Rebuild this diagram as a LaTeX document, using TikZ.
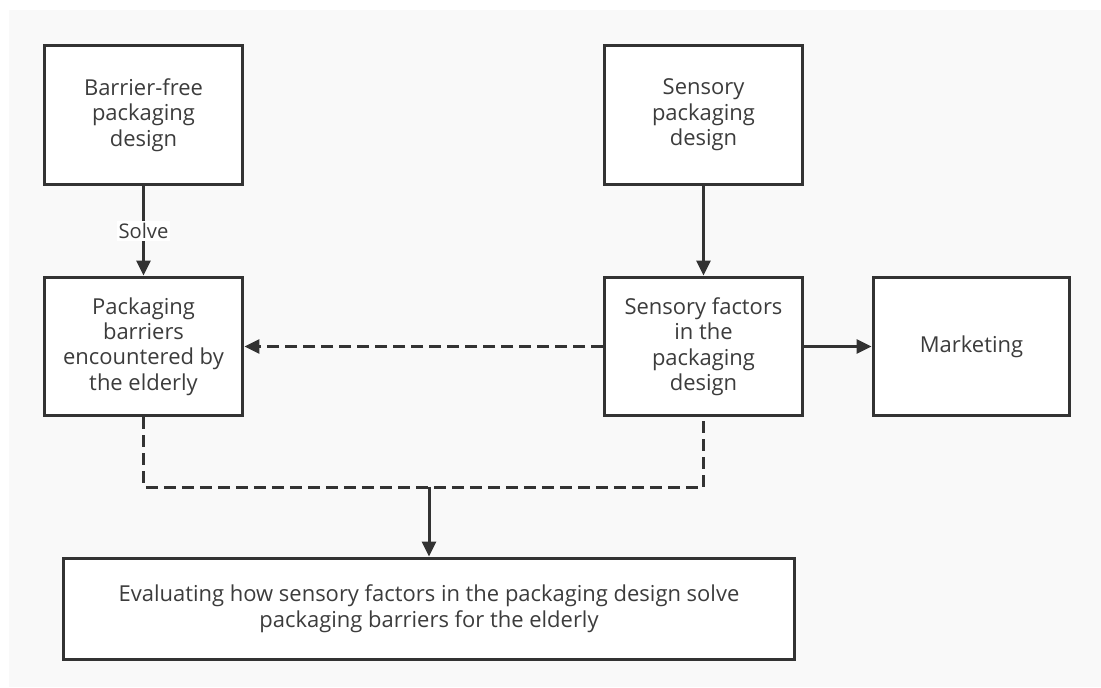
\documentclass[tikz,border=0pt]{standalone}
\usepackage{fontspec}
\setmainfont{Open Sans}
\usepackage{xcolor}
\usetikzlibrary{arrows.meta,positioning}
\definecolor{linegray}{HTML}{333333}
\definecolor{textgray}{HTML}{3C3C3C}
\definecolor{pagegray}{HTML}{F9F9F9}

\begin{document}
\begin{tikzpicture}[x=0.02cm, y=-0.02cm,
  box/.style={draw=linegray, line width=0.06cm, fill=white, text=textgray,
    align=center, inner sep=0pt, font=\fontsize{12.5}{14.5}\selectfont},
  arr/.style={draw=linegray, line width=0.06cm, -{Triangle[length=0.3cm,width=0.28cm]}},
  dashline/.style={draw=linegray, line width=0.06cm, dash pattern=on 0.24cm off 0.12cm}]
  % background
  \fill[white] (0,0) rectangle (1101,687);
  \fill[pagegray] (9,10) rectangle (1101,687);
  \useasboundingbox (0,0) rectangle (1101,687);
  % top row
  \node[box, minimum width=3.98cm, minimum height=2.8cm] (bfree) at (143.5,115) {Barrier-free\\packaging\\design};
  \node[box, minimum width=3.98cm, minimum height=2.8cm] (sensory) at (703.5,115) {Sensory\\packaging\\design};
  % middle row
  \node[box, minimum width=3.98cm, minimum height=2.78cm] (barriers) at (143.5,346.5) {Packaging\\barriers\\encountered by\\the elderly};
  \node[box, minimum width=3.96cm, minimum height=2.78cm] (factors) at (703.5,346.5) {Sensory factors\\in the\\packaging\\design};
  \node[box, minimum width=3.94cm, minimum height=2.78cm] (market) at (971.5,346.5) {Marketing};
  % bottom
  \node[box, minimum width=14.64cm, minimum height=2.02cm] (evaluate) at (429,608.5) {Evaluating how sensory factors in the packaging design solve\\packaging barriers for the elderly};
  \coordinate (join) at (evaluate.north |- 0,487);
  % connectors
  \draw[arr] (bfree) -- node[fill=white, text=textgray, inner sep=1pt, font=\fontsize{11.5}{13}\selectfont] {Solve} (barriers);
  \draw[arr] (sensory) -- (factors);
  \draw[arr] (factors) -- (market);
  \draw[dashline, -{Triangle[length=0.3cm,width=0.28cm]}] (factors) -- (barriers);
  \draw[dashline] (barriers.south) |- (join) -| (factors.south);
  \draw[arr] (join) -- (evaluate.north);
\end{tikzpicture}
\end{document}
